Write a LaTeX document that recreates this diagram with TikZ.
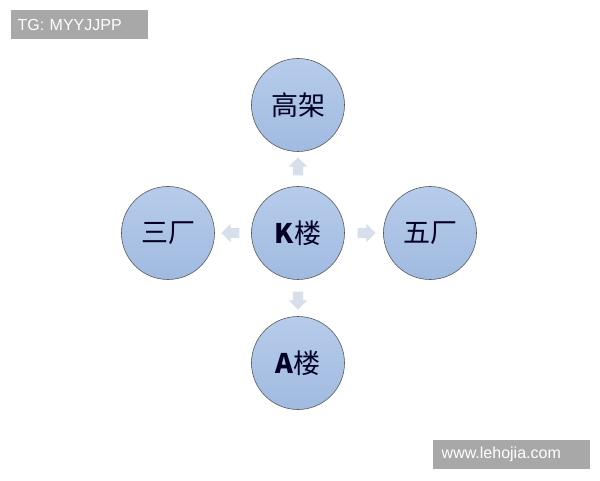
\documentclass[tikz,border=0pt]{standalone}
\usepackage{fontspec}
\setmainfont{Liberation Sans}
\newfontfamily\cjk{Noto Sans CJK SC}
\usetikzlibrary{shapes.arrows,calc}
\definecolor{placetop}{HTML}{B7CCEB}
\definecolor{placebot}{HTML}{A0BAE0}
\definecolor{flowgray}{HTML}{D6DFEA}
\definecolor{tagbg}{HTML}{A8A8A8}
\tikzset{
  place/.style={circle,draw=gray!70!black,line width=0.6pt,minimum size=93pt,inner sep=0pt,
    top color=placetop,bottom color=placebot,
    font=\cjk\fontsize{27}{30}\selectfont,text=black!85!blue},
  flow/.style={single arrow,fill=flowgray,draw=none,minimum height=18pt,inner sep=5pt,
    single arrow head extend=4pt,single arrow head indent=0pt},
  tag/.style={fill=tagbg,text=white,font=\fontsize{16}{18}\selectfont,inner sep=0pt,anchor=north west}
}
\begin{document}
\begin{tikzpicture}[x=1pt,y=1pt]
\useasboundingbox (0,0) rectangle (600,480);
\fill[white] (0,0) rectangle (600,480);
% circles
\node[place] (k) at (298,247) {\textbf{K}楼};
\node[place] (gj) at (298,375) {高架};
\node[place] (sc) at (168,247) {三厂};
\node[place] (wc) at (430,247) {五厂};
\node[place] (al) at (298,117) {\textbf{A}楼};
% arrows
\foreach \to/\ang in {gj/90,sc/180,wc/0,al/270}
  \node[flow,rotate=\ang] (f\to) at ($(k)!0.5!(\to)$) {};
% tags
\node[tag,minimum width=137pt,minimum height=29pt,text width=130pt,align=left] (tg) at (11,470) {\hspace*{3pt}TG: MYYJJPP};
\node[tag,minimum width=157pt,minimum height=29pt,text width=150pt,align=left] (url) at (433,40) {\hspace*{5pt}www.lehojia.com};
\end{tikzpicture}
\end{document}
